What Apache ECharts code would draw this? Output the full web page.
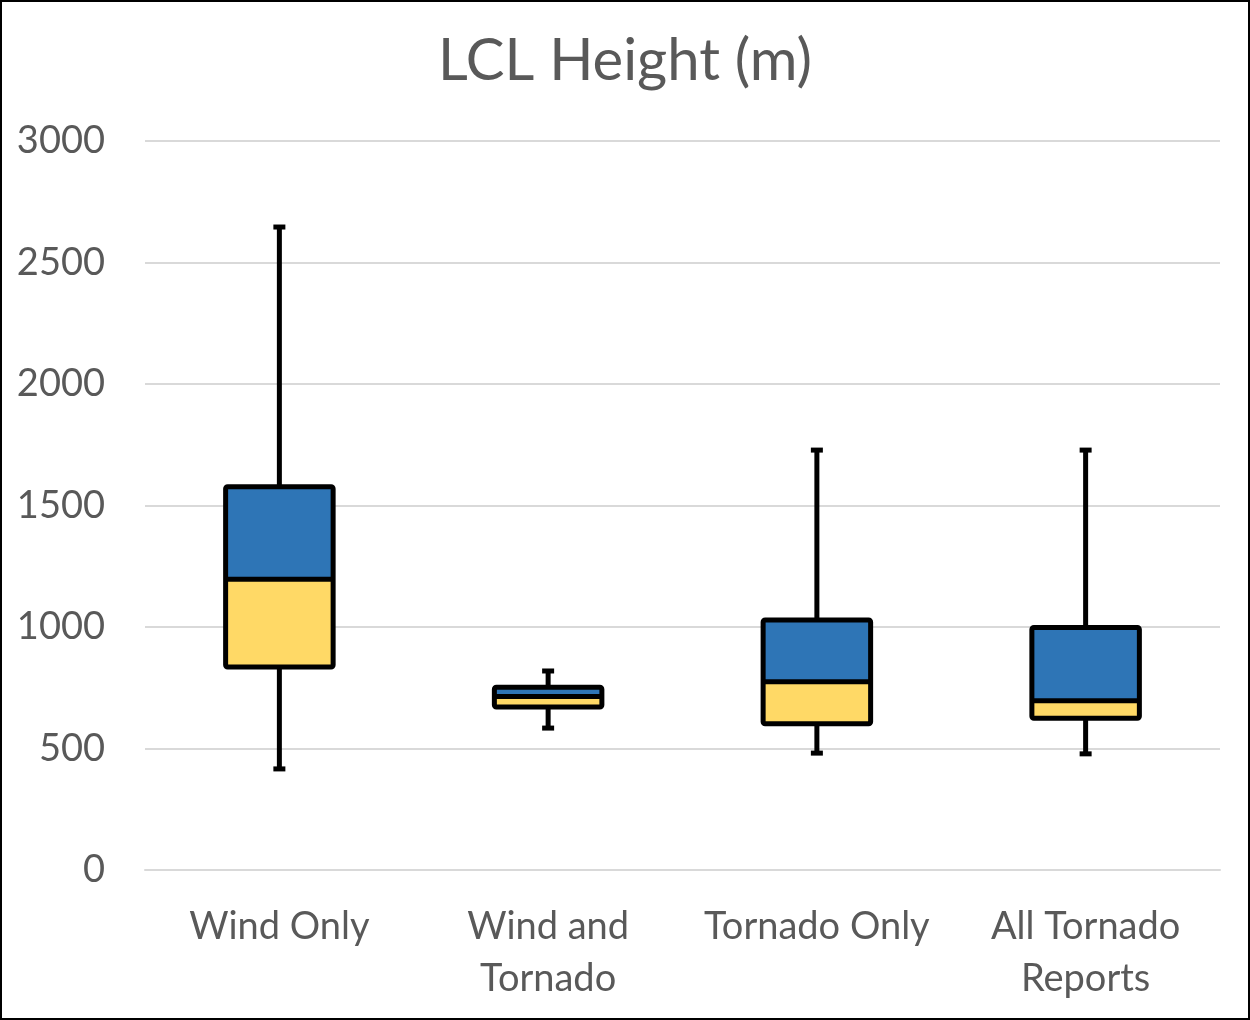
<!DOCTYPE html>
<html><head><meta charset="utf-8">
<script src="https://cdn.jsdelivr.net/npm/echarts@6/dist/echarts.min.js"></script>
<style>html,body{margin:0;padding:0;background:#fff}#c{width:1250px;height:1020px}</style>
</head><body><div id="c"></div>
<script>
const categories = ['Wind Only', 'Wind and\nTornado', 'Tornado Only', 'All Tornado\nReports'];
const whiskerMin = [416, 584, 481, 478];
const q1 = [835, 671, 602, 624];
const median = [1197, 714, 775, 696];
const q3 = [1577, 752, 1029, 998];
const whiskerMax = [2646, 819, 1728, 1728];
const yTicks = [0, 500, 1000, 1500, 2000, 2500, 3000];

const data = categories.map((c, i) => [i, whiskerMin[i], q1[i], median[i], q3[i], whiskerMax[i]]);
const FONT = 'Lato, "Open Sans", sans-serif';

const chart = echarts.init(document.getElementById('c'));
chart.setOption({
  animation: false,
  title: { text: 'LCL Height (m)', left: 'center', top: 27,
    textStyle: { fontFamily: FONT, fontSize: 58, fontWeight: 'normal', color: '#595959' } },
  grid: { left: 145, right: 30, top: 141, bottom: 150 },
  graphic: [{ type: 'rect', shape: { x: 1, y: 1, width: 1248, height: 1018 },
    style: { fill: 'none', stroke: '#000', lineWidth: 2 }, silent: true }],
  xAxis: { type: 'category', data: categories,
    axisLine: { show: true, lineStyle: { color: '#d9d9d9', width: 2 } },
    axisTick: { show: false },
    axisLabel: { interval: 0, fontFamily: FONT, fontSize: 38, color: '#595959', margin: 31, lineHeight: 52 } },
  yAxis: { type: 'value', min: yTicks[0], max: yTicks[yTicks.length - 1], interval: 500,
    axisLine: { show: false }, axisTick: { show: false },
    splitLine: { lineStyle: { color: '#d9d9d9', width: 2 } },
    axisLabel: { fontFamily: FONT, fontSize: 38, color: '#595959', margin: 40,
      formatter: v => String(v) } },
  series: [{
    type: 'custom',
    data: data,
    encode: { x: 0, y: [1, 2, 3, 4, 5] },
    renderItem: function (params, api) {
      const x = api.value(0);
      const pMin = api.coord([x, api.value(1)]);
      const pQ1 = api.coord([x, api.value(2)]);
      const pMed = api.coord([x, api.value(3)]);
      const pQ3 = api.coord([x, api.value(4)]);
      const pMax = api.coord([x, api.value(5)]);
      const band = api.size([1, 0])[0];
      const w = band * 0.4;
      const cx = pMed[0];
      const left = cx - w / 2;
      const cap = 12;
      const lw = 5;
      const stroke = { stroke: '#000', lineWidth: lw };
      return { type: 'group', children: [
        { type: 'line', shape: { x1: cx, y1: pMax[1], x2: cx, y2: pQ3[1] }, style: stroke },
        { type: 'line', shape: { x1: cx, y1: pQ1[1], x2: cx, y2: pMin[1] }, style: stroke },
        { type: 'line', shape: { x1: cx - cap / 2, y1: pMax[1], x2: cx + cap / 2, y2: pMax[1] }, style: stroke },
        { type: 'line', shape: { x1: cx - cap / 2, y1: pMin[1], x2: cx + cap / 2, y2: pMin[1] }, style: stroke },
        { type: 'rect', shape: { x: left, y: pMed[1], width: w, height: pQ1[1] - pMed[1] }, style: { fill: '#FFD966' } },
        { type: 'rect', shape: { x: left, y: pQ3[1], width: w, height: pMed[1] - pQ3[1] }, style: { fill: '#2E75B6' } },
        { type: 'line', shape: { x1: left, y1: pMed[1], x2: left + w, y2: pMed[1] }, style: stroke },
        { type: 'rect', shape: { x: left, y: pQ3[1], width: w, height: pQ1[1] - pQ3[1], r: 2 }, style: { fill: 'none', stroke: '#000', lineWidth: lw, lineJoin: 'round' } }
      ] };
    }
  }]
});
</script></body></html>
